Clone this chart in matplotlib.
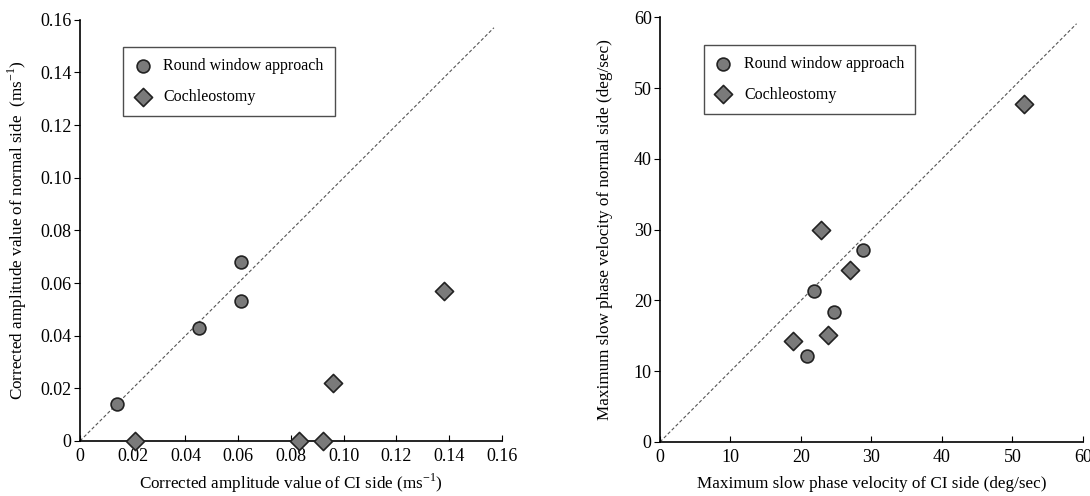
import matplotlib.pyplot as plt
import numpy as np

# ==============================
# Data
# ==============================
amp_rw_ci = [0.014, 0.045, 0.061, 0.061]
amp_rw_normal = [0.014, 0.043, 0.068, 0.053]
amp_co_ci = [0.021, 0.083, 0.092, 0.096, 0.138]
amp_co_normal = [0.0, 0.0, 0.0, 0.022, 0.057]

spv_rw_ci = [21.9, 28.8, 24.7, 20.9]
spv_rw_normal = [21.3, 27.1, 18.3, 12.2]
spv_co_ci = [22.8, 26.9, 23.8, 18.8, 51.7]
spv_co_normal = [30.0, 24.3, 15.1, 14.3, 47.8]

amp_ticks = [0, 0.02, 0.04, 0.06, 0.08, 0.10, 0.12, 0.14, 0.16]
amp_ticklabels = ["0", "0.02", "0.04", "0.06", "0.08", "0.10", "0.12", "0.14", "0.16"]
spv_ticks = [0, 10, 20, 30, 40, 50, 60]

plt.rcParams["font.family"] = ["Liberation Serif", "DejaVu Serif"]

MARKER_FACE = "#7a7a7a"
MARKER_EDGE = "#222222"

fig = plt.figure(figsize=(10.9, 4.96), dpi=100)
ax1 = fig.add_axes([0.0734, 0.111, 0.387, 0.849])
ax2 = fig.add_axes([0.6055, 0.109, 0.388, 0.856])


def style_axis(ax, ticks, labels, lim, diag_end):
    ax.plot([0, diag_end], [0, diag_end], linestyle=(0, (3, 2)), color="#555555",
            linewidth=0.8, zorder=1)
    ax.set_xlim(0, lim)
    ax.set_ylim(0, lim)
    ax.set_xticks(ticks)
    ax.set_yticks(ticks)
    ax.set_xticklabels(labels)
    ax.set_yticklabels(labels)
    ax.spines["top"].set_visible(False)
    ax.spines["right"].set_visible(False)
    ax.spines["left"].set_linewidth(1.2)
    ax.spines["bottom"].set_linewidth(1.2)
    ax.tick_params(axis="x", direction="in", length=4, labelsize=13, pad=5)
    ax.tick_params(axis="y", direction="out", length=4, labelsize=13, pad=2)


def add_legend(ax, x0):
    leg = ax.legend(loc="upper left", bbox_to_anchor=(x0, 0.935), fontsize=11.5,
                    frameon=True, fancybox=False, edgecolor="#222222",
                    handlelength=1.0, handletextpad=0.8, borderpad=0.7,
                    labelspacing=0.9, borderaxespad=0)
    leg.get_frame().set_linewidth(1.0)
    return leg


# ==============================
# Left: corrected amplitude
# ==============================
style_axis(ax1, amp_ticks, amp_ticklabels, 0.16, 0.157)
ax1.scatter(amp_rw_ci, amp_rw_normal, s=85, marker="o", facecolor=MARKER_FACE,
            edgecolor=MARKER_EDGE, linewidth=1.2, zorder=3, clip_on=False,
            label="Round window approach")
ax1.scatter(amp_co_ci, amp_co_normal, s=85, marker="D", facecolor=MARKER_FACE,
            edgecolor=MARKER_EDGE, linewidth=1.2, zorder=3, clip_on=False,
            label="Cochleostomy")
ax1.set_xlabel("Corrected amplitude value of CI side (ms$^{\\mathregular{-1}}$)",
               fontsize=12.3, labelpad=5)
ax1.set_ylabel("Corrected amplitude value of normal side  (ms$^{\\mathregular{-1}}$)",
               fontsize=12.3, labelpad=8)
add_legend(ax1, 0.103)

# ==============================
# Right: max slow phase velocity
# ==============================
style_axis(ax2, spv_ticks, [str(t) for t in spv_ticks], 60, 59.1)
ax2.scatter(spv_rw_ci, spv_rw_normal, s=85, marker="o", facecolor=MARKER_FACE,
            edgecolor=MARKER_EDGE, linewidth=1.2, zorder=3,
            label="Round window approach")
ax2.scatter(spv_co_ci, spv_co_normal, s=85, marker="D", facecolor=MARKER_FACE,
            edgecolor=MARKER_EDGE, linewidth=1.2, zorder=3,
            label="Cochleostomy")
ax2.set_xlabel("Maximum slow phase velocity of CI side (deg/sec)",
               fontsize=12.3, labelpad=7)
ax2.set_ylabel("Maximum slow phase velocity of normal side (deg/sec)",
               fontsize=12.3, labelpad=15)
add_legend(ax2, 0.104)

fig.savefig("out.png", dpi=100)
